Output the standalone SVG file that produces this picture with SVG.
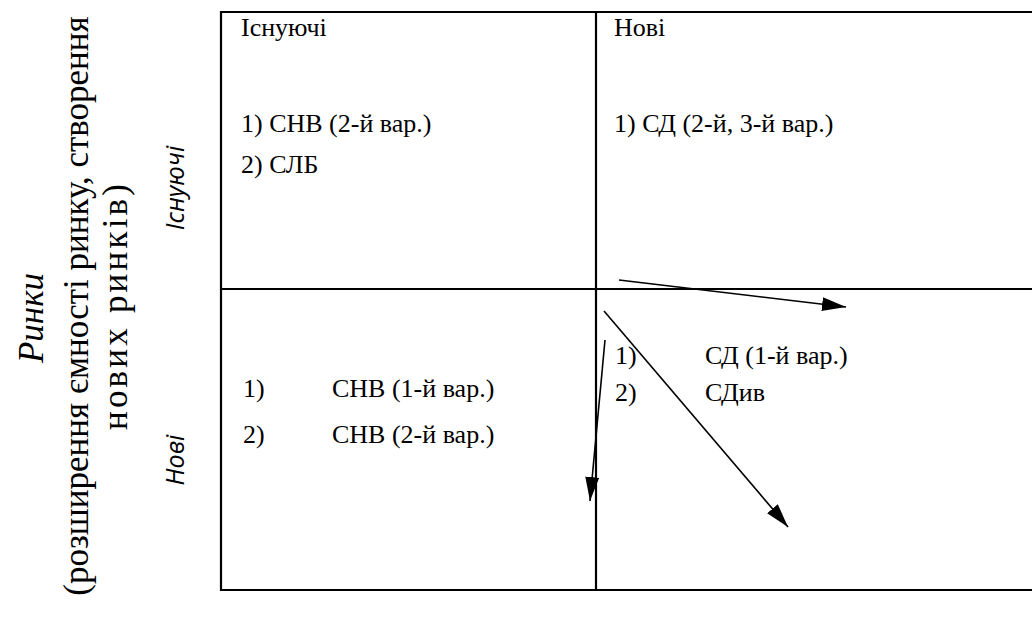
<svg xmlns="http://www.w3.org/2000/svg" width="1032" height="630" viewBox="0 0 1032 630">
<style>
text{fill:#000}
.t{font-family:'Liberation Serif','Times New Roman',Times,serif;font-size:26px}
.big{font-family:'Liberation Serif','Times New Roman',Times,serif;font-size:35px}
.lab{font-family:'Open Sans','Liberation Sans',sans-serif;font-size:25px;font-style:italic}
.grid{stroke:#000;stroke-width:2.2;fill:none}
.arr{stroke:#000;stroke-width:1.6;fill:none}
</style>
<defs>
<marker id="ah" viewBox="0 0 24 14" refX="24" refY="7" markerWidth="24" markerHeight="14" markerUnits="userSpaceOnUse" orient="auto">
<path d="M0,0 L24,7 L0,14 Z" fill="#000"/>
</marker>
</defs>
<rect width="1032" height="630" fill="#fff"/>
<g id="axis-title">
<text class="big" font-style="italic" font-size="36" text-anchor="middle" transform="translate(43,318) rotate(-90)">Ринки</text>
<text class="big" text-anchor="middle" transform="translate(88,306) rotate(-90)">(розширення ємності ринку, створення</text>
<text class="big" text-anchor="middle" textLength="246" lengthAdjust="spacing" transform="translate(127,307) rotate(-90)">нових ринків)</text>
</g>
<g id="row-labels">
<text class="lab" text-anchor="middle" transform="translate(184,188) rotate(-90)">Існуючі</text>
<text class="lab" text-anchor="middle" transform="translate(184,460) rotate(-90)">Нові</text>
</g>
<g id="grid">
<line class="grid" x1="221" y1="12" x2="1032" y2="12"/>
<line class="grid" x1="221" y1="289" x2="1032" y2="289"/>
<line class="grid" x1="221" y1="590" x2="1032" y2="590"/>
<line class="grid" x1="221" y1="11" x2="221" y2="591"/>
<line class="grid" x1="596" y1="11" x2="596" y2="591"/>
</g>
<g id="cell-existing-existing">
<text class="t" x="241" y="36">Існуючі</text>
<text class="t" x="241" y="132">1) СНВ (2-й вар.)</text>
<text class="t" x="241" y="173">2) СЛБ</text>
</g>
<g id="cell-existing-new">
<text class="t" x="614" y="36">Нові</text>
<text class="t" x="614" y="132">1) СД (2-й, 3-й вар.)</text>
</g>
<g id="cell-new-existing">
<text class="t" x="243" y="397">1)</text>
<text class="t" x="332" y="397">СНВ (1-й вар.)</text>
<text class="t" x="243" y="443">2)</text>
<text class="t" x="332" y="443">СНВ (2-й вар.)</text>
</g>
<g id="cell-new-new">
<text class="t" x="615" y="364">1)</text>
<text class="t" x="705" y="364">СД (1-й вар.)</text>
<text class="t" x="615" y="401">2)</text>
<text class="t" x="705" y="401">СДив</text>
</g>
<g id="connectors">
<line class="arr" x1="619" y1="280" x2="846" y2="307" marker-end="url(#ah)"/>
<line class="arr" x1="604" y1="311" x2="788" y2="527" marker-end="url(#ah)"/>
<line class="arr" x1="605" y1="340" x2="590" y2="501" marker-end="url(#ah)"/>
</g>
</svg>
